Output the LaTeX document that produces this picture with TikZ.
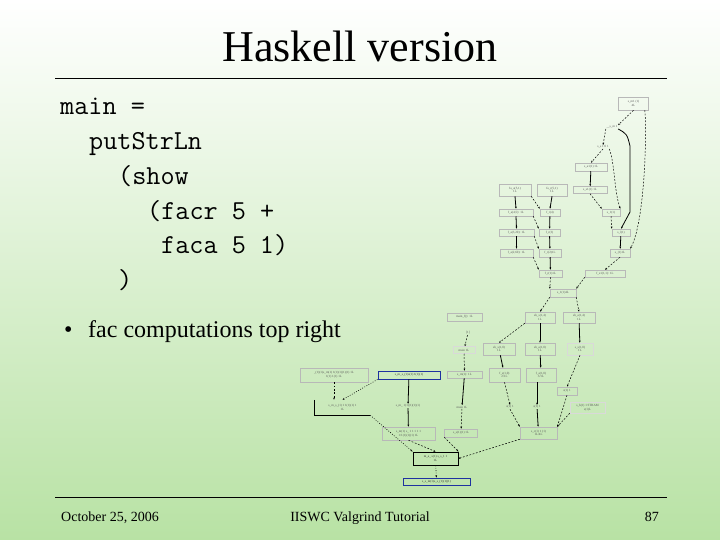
\documentclass[tikz,border=0pt]{standalone}
\usepackage{fontspec}
\setmainfont{Liberation Serif}
\usetikzlibrary{arrows.meta}
\definecolor{bgbottom}{RGB}{184,226,164}
\definecolor{gbblue}{RGB}{30,50,160}
\begin{document}
\begin{tikzpicture}[x=1pt,y=-1pt,
  gb/.style={draw=black!28, line width=0.5pt, inner sep=0pt, align=center,
    font=\fontsize{3.2}{3.7}\selectfont, text=black!65},
  gt/.style={inner sep=0.5pt, align=center, font=\fontsize{3.2}{3.7}\selectfont, text=black!65},
  bluebox/.style={gb, draw=gbblue, line width=0.9pt, text=black!80},
  blackbox/.style={gb, draw=black, line width=0.9pt, text=black!80},
  tip/.style={-{Stealth[length=2.2pt,width=1.7pt]}},
  ed/.style={tip, line width=0.5pt, dash pattern=on 1.8pt off 1.6pt},
  edot/.style={tip, line width=0.6pt, dash pattern=on 0.8pt off 1.6pt},
  es/.style={tip, line width=0.8pt},
  codeline/.style={anchor=base west, inner sep=0pt, font=\ttfamily\fontsize{27.4}{27.4}\selectfont}]
% background
\shade[top color=white, bottom color=bgbottom] (0,0) rectangle (720,540);
\useasboundingbox (0,0) rectangle (720,540);
% title
\node[anchor=base, inner sep=0pt, font=\fontsize{44}{44}\selectfont] (title) at (360,62) {Haskell version};
\draw[line width=0.8pt] (55,78) coordinate (tl) -- (667,78) coordinate (tr);
% code
\node[codeline] (c1) at (60,115) {main =};
\node[codeline] (c2) at (89,150) {putStrLn};
\node[codeline] (c3) at (118,185) {(show};
\node[codeline] (c4) at (147,219.5) {(facr 5 +};
\node[codeline] (c5) at (161,254) {faca 5 1)};
\node[codeline] (c6) at (118,288.5) {)};
% bullet
\node[anchor=base west, inner sep=0pt, font=\fontsize{24}{24}\selectfont] (bul) at (64,337) {•};
\node[anchor=base west, inner sep=0pt, font=\fontsize{24}{24}\selectfont] (btext) at (88,337) {fac computations top right};
% footer
\draw[line width=0.8pt] (55,497.5) coordinate (fl) -- (667,497.5) coordinate (fr);
\node[anchor=base west, inner sep=0pt, font=\fontsize{14}{14}\selectfont] (date) at (61,521) {October 25, 2006};
\node[anchor=base, inner sep=0pt, font=\fontsize{14}{14}\selectfont] (conf) at (360,521) {IISWC Valgrind Tutorial};
\node[anchor=base east, inner sep=0pt, font=\fontsize{14}{14}\selectfont] (page) at (659,521) {87};
% ---------------- graph nodes ----------------
\node[gb, minimum width=30, minimum height=13] (A) at (633.5,103.5) {s\_m1 (1)\\4L};
\node[gt] (B) at (612,127) {\_\_s\_m  1};
\node[gt] (C) at (603,147) {s\_s  1:0 1};
\node[gb, minimum width=32, minimum height=8] (D) at (591,167) {s\_a1(1)  1L};
\node[gb, minimum width=34, minimum height=7] (E) at (590,190) {s\_s1(1)  1L};
\node[gb, minimum width=32, minimum height=12] (F) at (515,190) {fa\_a(5,1)\\1L};
\node[gb, minimum width=30, minimum height=12] (G) at (552,190) {fa\_r(5,1)\\1L};
\node[gb, minimum width=34, minimum height=7] (H) at (516,212.5) {f\_a(4,5): 1L};
\node[gb, minimum width=20, minimum height=7] (I) at (550,212.5) {f\_r(4)};
\node[gb, minimum width=18, minimum height=7] (J) at (611,212.5) {s\_1(1)};
\node[gb, minimum width=35, minimum height=7] (K) at (516.5,232.5) {f\_a(3,20): 1L};
\node[gb, minimum width=21, minimum height=7] (L) at (549.5,232.5) {f\_r(3)};
\node[gb, minimum width=18, minimum height=7] (M) at (621,232.5) {s\_l(1)};
\node[gb, minimum width=33, minimum height=8] (N) at (516.5,253) {f\_a(2,60): 1L};
\node[gb, minimum width=22, minimum height=8] (O) at (550,253) {f\_r(2)1L};
\node[gb, minimum width=20, minimum height=8] (P) at (620,253) {s\_(1)1L};
\node[gb, minimum width=23, minimum height=7] (Q) at (550.5,273.5) {f\_r(1)1L};
\node[gb, minimum width=40, minimum height=7] (R) at (605,273.5) {f\_s1(1,1): 1L};
\node[gb, minimum width=26, minimum height=8] (S) at (563,293) {s\_1(1)4L};
\node[gb, minimum width=30, minimum height=11] (T) at (540,317.5) {sh\_s(1,4)\\1L};
\node[gb, minimum width=32, minimum height=11] (U) at (579,317.5) {sh\_a(1,4)\\1L};
\node[gb, minimum width=35, minimum height=8] (V) at (464.5,317) {main\_f(): 1L};
\node[gt] (W) at (468,333) {[1]};
\node[gb, draw=black!15, minimum width=22, minimum height=7] (X) at (464,350) {main 1L};
\node[gb, minimum width=32, minimum height=12] (Y) at (499,349) {sh\_s(1,0)\\1L};
\node[gb, minimum width=30, minimum height=12] (Z) at (540,349) {sh\_a(1,0)\\1L};
\node[gb, draw=black!15, minimum width=26, minimum height=12] (AA) at (580,349) {s\_s(1,0)\\1L};
\node[gb, minimum width=31, minimum height=14] (BB) at (504.5,375) {f\_s(1,0)\\2/1L};
\node[gb, minimum width=30, minimum height=14] (CC) at (541,375) {f\_a(1,0)\\3/1L};
\node[gb, minimum width=20, minimum height=8] (DD) at (567,391) {s(1) 1};
\node[gb, minimum width=35, minimum height=7] (EE) at (464.5,374.5) {s\_m(1): 1L};
\node[gt] (FF) at (462,407) {main 1L};
\node[gt] (GG) at (510,407) {s(1) 1};
\node[gt] (HH) at (537,407) {s(1) 1};
\node[gb, draw=black!15, minimum width=35, minimum height=11] (JJ) at (587.5,407.5) {s\_h(1) 1 STRAM\\s(1)L};
\node[gb, minimum width=37, minimum height=12] (II) at (538.5,433) {s\_c(1) 1 (1)\\1L/4L};
\node[gb, minimum width=33, minimum height=8] (KK) at (461,433) {s\_s(1)(1) 1L};
\node[blackbox, minimum width=45, minimum height=13] (MM) at (435.5,458.5) {m\_a\_ s(1) s\_s\_1 1\\1L};
\node[gb, minimum width=68, minimum height=14] (NN) at (334,375) {\_(1)(1)s\_m(1) 1(1)(1)(1)(1) 1L\\1(1) 1(1) 1L};
\node[bluebox, minimum width=62, minimum height=8] (OO) at (409,375) {s\_m\_s\_(1)s(1) 1(1)(1)};
\node[gb, draw=none, minimum width=55, minimum height=15] (PP) at (342.5,407.5) {s\_m\_s\_(1) 1 1(1)(1) 1\\1L};
\draw[line width=0.8pt] (PP.north west) |- (PP.south east);
\node[gt] (QQ) at (408,406) {s\_m\_ 1(1)(1)(1)(1)};
\node[gb, minimum width=53, minimum height=13] (RR) at (408.5,433.5) {s\_m(1) s\_ 1 1 1 1 1\\1/1(1)(1)(1) 1L};
\node[bluebox, minimum width=67, minimum height=7] (TT) at (436.5,481.5) {s\_s\_m(1)s\_s\_(1)(1)(1)};
% ---------------- graph edges ----------------
\draw[ed] (A.south) -- (B.north east);
\draw[ed] ([xshift=-4]A.south east) .. controls (647,130) and (645,222) .. (P.north east);
\draw[es] (B.south east) .. controls (627,134) .. (630,146) -- (630,212) -- (M.north);
\draw[ed] (B.south west) -- (C.north);
\draw[ed] (C.south) -- (D.north);
\draw[ed] (C.south east) .. controls (615,165) and (614,190) .. (J.north east);
\draw[es] (D) -- (E);
\draw[ed] (E.south) -- (J.north west);
\draw[es] (F.south) -- (H.north);
\draw[ed] (F.south east) -- (I.north west);
\draw[es] (G.south) -- (I.north);
\draw[es] (H.south) -- (K.north);
\draw[ed] (H.south east) -- (L.north west);
\draw[es] (I) -- (L);
\draw[ed] (J.south) -- (M.north west);
\draw[es] (M) -- (P);
\draw[es] (K) -- (N);
\draw[ed] (K.south east) -- (O.north west);
\draw[es] (L) -- (O);
\draw[ed] (N.south east) -- (Q.north west);
\draw[es] (O) -- (Q);
\draw[ed] (P.south) -- (R.north);
\draw[ed] (Q.south) -- (S.north west);
\draw[ed] (R.south west) -- (S.north east);
\draw[ed] (S.south west) -- (T.north);
\draw[ed] (S.south east) -- (U.north);
\draw[ed] (T.south west) -- (Y.north);
\draw[es] (T) -- (Z);
\draw[es] (U) -- (AA);
\draw[es] (Y) -- (BB);
\draw[es] (Z) -- (CC);
\draw[ed] (AA.south) -- (DD.north);
\draw[ed] (W) -- (X);
\draw[ed] (X) -- (EE);
\draw[es] (EE) -- (FF);
\draw[ed] (BB.south) -- (GG.north);
\draw[es] (CC.south -| HH) -- (HH);
\draw[ed] (DD.south) -- (II.north east);
\draw[ed] (GG.south) -- (II.north west);
\draw[es] (HH) -- (II);
\draw[ed] (JJ.south west) -- (II.north east);
\draw[ed] (FF) -- (KK);
\draw[ed] (KK.south west) -- (MM.north east);
\draw[ed] (II.south west) -- (MM.east);
\draw[ed] (NN.south) -- (PP.north west -| NN.south);
\draw[edot] (OO.south west) -- (PP.north);
\draw[es] (OO) -- (QQ);
\draw[es] (QQ) -- (RR);
\draw[edot] (PP.south east) -- (MM.north west);
\draw[ed] (RR.south) -- (MM.north);
\draw[edot] (MM) -- (TT);
\end{tikzpicture}
\end{document}
